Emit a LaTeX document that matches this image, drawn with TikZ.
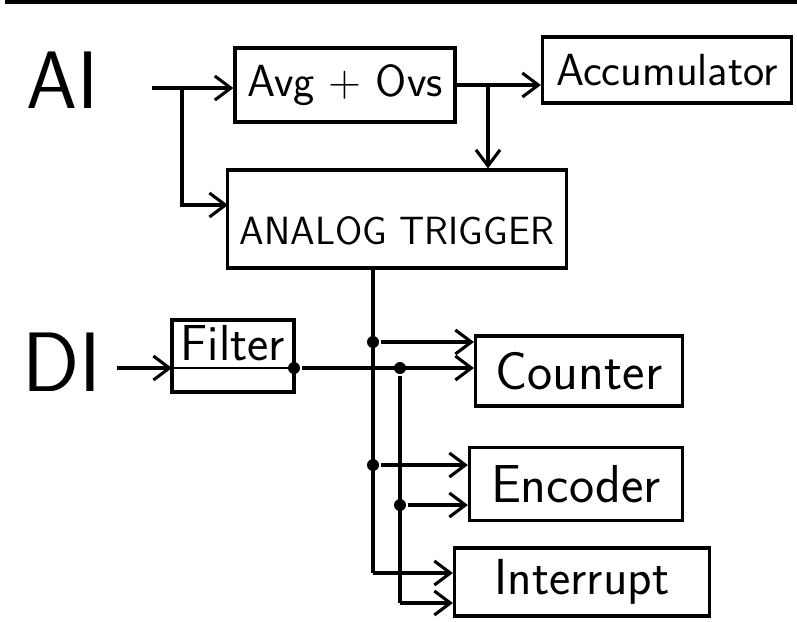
\documentclass[tikz,border=0pt]{standalone}
\usepackage{fontspec}
\usetikzlibrary{arrows.meta}

\begin{document}
\begin{tikzpicture}[
    x=0.025cm, y=-0.025cm,
    line width=2.2pt,
    >={Straight Barb[length=4mm,width=6mm]},
    hand/.style={font=\sffamily\fontsize{#1}{#1}\selectfont},
    blk/.style={draw, inner sep=0pt},
    jdot/.style={circle, fill, inner sep=0pt, minimum size=0.3cm}]

\useasboundingbox (0,0) rectangle (797,621);
\fill (5,0) rectangle (797,4);

% analog side
\node[hand=58pt] (ai) at (63,80) {AI};
\node[blk, hand=32pt, minimum width=5.5cm, minimum height=1.85cm] (avg) at (345,85) {Avg + Ovs};
\node[blk, hand=32pt, minimum width=6.225cm, minimum height=1.65cm] (acc) at (667,70) {Accumulator};
\node[blk, hand=28pt, minimum width=8.475cm, minimum height=2.45cm, text height=36pt] (trig) at (397,219) {ANALOG TRIGGER};

\coordinate (ain) at (152,88);
\coordinate (asplit) at (182,88);
\coordinate (tin) at (228,205);
\coordinate (adown) at (488,85);

\draw[->] (ain) -- (ain -| avg.west);
\draw[->] (asplit) |- (tin);
\draw[->] (avg.east) -- (avg.east -| acc.west);
\draw[->] (adown) -- (adown |- trig.north);

% digital side
\node[hand=60pt] (di) at (62,362) {DI};
\node[blk, hand=36pt, minimum width=3.05cm, minimum height=1.8cm, text depth=18pt] (filter) at (233,356) {Filter};
\node[blk, hand=38pt, minimum width=5.175cm, minimum height=1.75cm] (cnt) at (579,371) {Counter};
\node[blk, hand=38pt, minimum width=5.325cm, minimum height=1.825cm] (enc) at (576,484) {Encoder};
\node[blk, hand=36pt, minimum width=6.375cm, minimum height=1.7cm] (intr) at (582,582) {Interrupt};

\coordinate (din) at (117,368);
\coordinate (fin) at (172,368);
\coordinate (fout) at (294,368);
\draw[->] (din) -- (fin);
\draw[line width=1.4pt] (fin) -- (fout);

% trigger bus
\node[jdot] (t1) at (373,342) {};
\node[jdot] (t2) at (373,465) {};
\coordinate (t3) at (373,573);
\draw (t1 |- trig.south) -- (t3);
\draw[->] (t1) -- (t1 -| cnt.west);
\draw[->] (t2) -- (t2 -| enc.west);
\draw[->] (t3) -- (t3 -| intr.west);

% filter bus
\node[jdot] (fo) at (fout) {};
\node[jdot] (f1) at (400,368) {};
\node[jdot] (f2) at (400,505) {};
\coordinate (f3) at (400,603);
\draw[->] (fo) -- (fo -| cnt.west);
\draw (f1) -- (f3);
\draw[->] (f2) -- (f2 -| enc.west);
\draw[->] (f3) -- (f3 -| intr.west);

\end{tikzpicture}
\end{document}
